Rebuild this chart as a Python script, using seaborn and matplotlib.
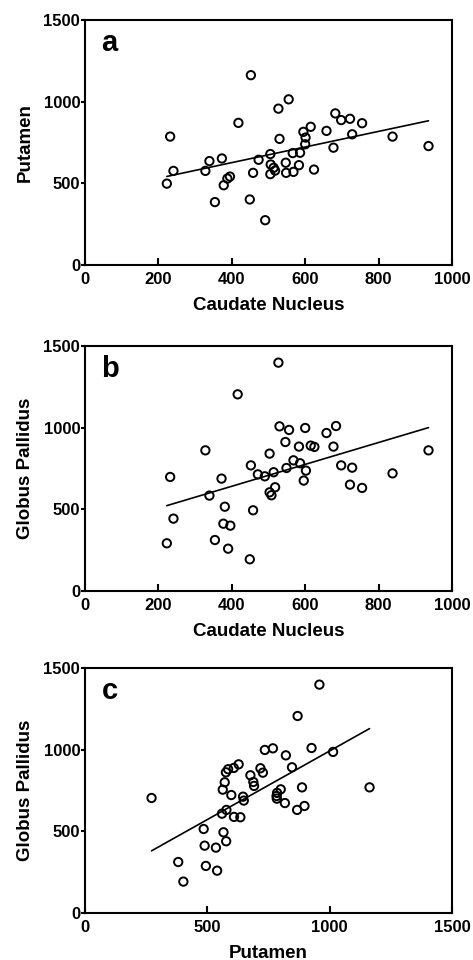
import numpy as np
import pandas as pd
import matplotlib
matplotlib.use('Agg')
import matplotlib.pyplot as plt
import seaborn as sns

# panel a: caudate nucleus vs putamen
caudate_a = [452, 555, 527, 418, 232, 682, 698, 722, 755, 615, 595, 601, 658, 728, 838,
             936, 530, 600, 677, 505, 566, 586, 473, 373, 339, 328, 241, 223, 506, 514,
             518, 505, 547, 548, 568, 583, 624, 458, 395, 388, 378, 354, 449, 491]
putamen_a = [1162, 1014, 957, 870, 786, 928, 887, 895, 868, 846, 815, 780, 821, 800, 786,
             728, 772, 739, 718, 679, 685, 687, 644, 652, 636, 576, 576, 498, 615, 595,
             578, 556, 626, 564, 570, 611, 584, 564, 541, 529, 488, 385, 401, 274]

# panel b: caudate nucleus vs globus pallidus
caudate_b = [527, 416, 530, 556, 600, 658, 684, 546, 583, 615, 625, 677, 328, 936, 503,
             568, 586, 549, 452, 698, 728, 602, 514, 471, 490, 232, 372, 838, 596, 722,
             755, 518, 503, 508, 339, 381, 458, 241, 377, 396, 354, 223, 390, 449]
pallidus_b = [1398, 1204, 1008, 986, 998, 967, 1010, 912, 884, 890, 882, 884, 861, 861, 841,
              800, 782, 753, 769, 769, 755, 737, 727, 714, 702, 698, 688, 720, 676, 651,
              631, 635, 604, 586, 584, 516, 494, 443, 412, 400, 312, 292, 259, 194]

# panel c: putamen vs globus pallidus
putamen_c = [958, 869, 768, 735, 926, 1014, 821, 628, 608, 585, 576, 846, 717, 727, 676,
             688, 691, 571, 563, 598, 646, 649, 800, 785, 783, 784, 817, 887, 1163, 272,
             897, 867, 578, 560, 609, 635, 485, 566, 577, 489, 535, 381, 494, 540, 402]
pallidus_c = [1398, 1206, 1008, 998, 1010, 986, 965, 910, 888, 880, 861, 892, 886, 859, 843,
              802, 778, 800, 755, 722, 712, 688, 757, 735, 716, 700, 673, 769, 769, 704,
              655, 631, 631, 608, 588, 586, 514, 494, 439, 412, 400, 312, 288, 259, 192]

sns.set_style('ticks')
plt.rcParams['font.family'] = ['Liberation Sans', 'DejaVu Sans']
plt.rcParams['font.weight'] = 'bold'
plt.rcParams['axes.labelweight'] = 'bold'
plt.rcParams['text.color'] = 'black'
plt.rcParams['axes.labelcolor'] = 'black'
plt.rcParams['xtick.color'] = 'black'
plt.rcParams['ytick.color'] = 'black'

fig = plt.figure(figsize=(4.73, 9.6), dpi=100)

panels = [
    ('a', caudate_a, putamen_a, 'Caudate Nucleus', 'Putamen', 1000, 200, 0.7240),
    ('b', caudate_b, pallidus_b, 'Caudate Nucleus', 'Globus Pallidus', 1000, 200, 0.3844),
    ('c', putamen_c, pallidus_c, 'Putamen', 'Globus Pallidus', 1500, 500, 0.0490),
]

for letter, xs, ys, xlab, ylab, xmax, xstep, bottom in panels:
    ax = fig.add_axes([0.1797, bottom, 0.7759, 0.2552])
    df = pd.DataFrame({'x': xs, 'y': ys})
    sns.scatterplot(data=df, x='x', y='y', ax=ax, s=36, marker='o',
                    facecolor='none', edgecolor='black', linewidth=1.4, zorder=3)
    sns.regplot(data=df, x='x', y='y', ax=ax, scatter=False, ci=None,
                color='black', line_kws={'linewidth': 1.2})
    ax.set_xlim(0, xmax)
    ax.set_ylim(0, 1500)
    ax.set_xticks(np.arange(0, xmax + 1, xstep))
    ax.set_yticks([0, 500, 1000, 1500])
    for side in ax.spines.values():
        side.set_linewidth(1.5)
        side.set_color('black')
    ax.tick_params(axis='x', direction='in', length=5, width=1.5, pad=5,
                   labelsize=12, colors='black')
    ax.tick_params(axis='y', direction='out', length=3, width=1.5, pad=0.5,
                   labelsize=12, colors='black')
    for lbl in ax.get_xticklabels() + ax.get_yticklabels():
        lbl.set_fontweight('bold')
    ax.set_xlabel(xlab, fontsize=13.5, fontweight='bold', color='black')
    ax.set_ylabel(ylab, fontsize=13.5, fontweight='bold', color='black')
    ax.xaxis.set_label_coords(0.5, -0.13)
    ax.yaxis.set_label_coords(-0.14, 0.5)
    ax.text(0.045, 0.875, letter, transform=ax.transAxes, fontsize=21,
            fontweight='bold', va='baseline', ha='left', color='black')

fig.savefig('out.png', dpi=100)
